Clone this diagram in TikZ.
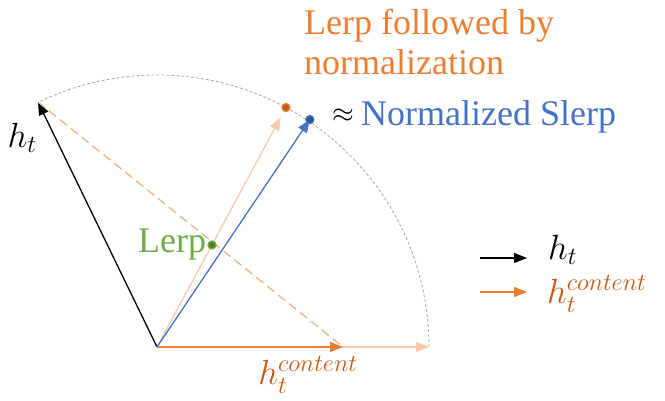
\RequirePackage{fix-cm}
\documentclass[tikz,border=0pt]{standalone}
\usepackage{amsmath,amssymb}
\usepackage{fontspec}
\setmainfont{Liberation Serif}
\usepackage{xcolor}
\usetikzlibrary{positioning,arrows.meta,calc}

\definecolor{offorange}{HTML}{ED7D31}
\definecolor{darkorange}{HTML}{C55A11}
\definecolor{paleorange}{HTML}{F8CBAD}
\definecolor{dashorange}{HTML}{F4B183}
\definecolor{offblue}{HTML}{4472C4}
\definecolor{darkblue}{HTML}{2F5597}
\definecolor{offgreen}{HTML}{70AD47}
\definecolor{darkgreen}{HTML}{548235}

\begin{document}
\begin{tikzpicture}[x=1pt, y=1pt,
    >={Triangle[length=13pt, width=10pt]},
    vec/.style={->, line width=1.3pt, draw=#1, color=#1},
    vec/.default=black,
    dot/.style={circle, inner sep=0pt, minimum size=8pt, line width=1.2pt, draw=#1},
    bigtxt/.style={font=\fontsize{36}{40}\selectfont, inner sep=1pt},
    mathlbl/.style={font=\fontsize{35}{38}\selectfont, inner sep=0pt},
]
\useasboundingbox (0,0) rectangle (665,401);

% --- Key points ---
\coordinate (O) at (157,54);
\coordinate (ht) at (38,299);
\coordinate (hc) at (343,54);
\coordinate (hcend) at (429,54);

% unit circle arc
\draw[gray!70, densely dashed, line width=0.8pt] (hcend) arc[start angle=0, end angle=116, radius=272];

% --- Vectors ---
\draw[vec=paleorange] (O) -- (hcend);
\draw[vec=offorange] (O) -- (hc);
\draw[vec] (O) -- (ht);
\draw[dashorange, dashed, dash pattern=on 9pt off 5pt, line width=1.3pt] (ht) -- (hc);

\coordinate (nlerp) at ($(O)+(61.7:272)$);
\coordinate (nlerptip) at ($(O)+(61.7:261)$);
\coordinate (slerp) at ($(O)+(56.1:274)$);
\draw[vec=paleorange] (O) -- (nlerptip);
\draw[vec=offblue] (O) -- (slerp);

% --- Points ---
\node[dot=offgreen, fill=darkgreen] (lerpdot) at (212,156) {};
\node[dot=offorange, fill=darkorange] (nlerpdot) at (nlerp) {};
\node[dot=offblue, fill=darkblue] (slerpdot) at (slerp) {};

% --- Labels ---
\node[mathlbl] (htlbl) at (22,263) {$h_t$};
\node[mathlbl, text=darkorange] (hclbl) at (308,26) {$h_t^{content}$};
\node[bigtxt, text=offgreen, left=0pt of lerpdot] (lerplbl) {Lerp};
\node[bigtxt, text=offorange, align=left, anchor=north west] (nlerplbl) at (303,393) {Lerp followed by\\normalization};
\node[font=\fontsize{28}{30}\selectfont, inner sep=0pt, anchor=west] (approx) at (332,285) {$\approx$};
\node[bigtxt, text=offblue, anchor=west] (slerplbl) at (360,284) {Normalized Slerp};

% --- Legend ---
\coordinate (lgas) at (480,143);
\coordinate (lgae) at (527,143);
\coordinate (lgbs) at (480,109);
\coordinate (lgbe) at (527,109);
\draw[vec] (lgas) -- (lgae);
\draw[vec=offorange] (lgbs) -- (lgbe);
\node[mathlbl, right=21pt of lgae, yshift=8pt] (lgalbl) {$h_t$};
\node[mathlbl, text=darkorange, right=20pt of lgbe, yshift=-2pt] (lgblbl) {$h_t^{content}$};

\end{tikzpicture}
\end{document}
